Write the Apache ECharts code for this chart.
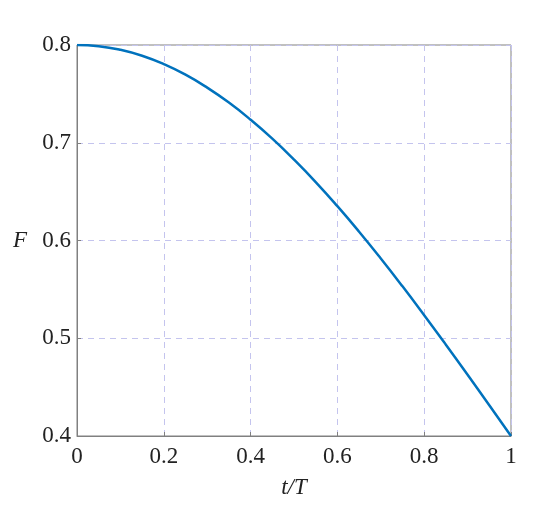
<!DOCTYPE html>
<html>
<head>
<meta charset="utf-8">
<script src="https://cdn.jsdelivr.net/npm/echarts@6/dist/echarts.min.js"></script>
<style>html,body{margin:0;padding:0;background:#fff;}#c{width:550px;height:506px;}</style>
</head>
<body>
<div id="c"></div>
<script>
const tValues = [0, 0.05, 0.1, 0.15, 0.2, 0.25, 0.3, 0.35, 0.4, 0.45, 0.5, 0.55, 0.6, 0.65, 0.7, 0.75, 0.8, 0.85, 0.9, 0.95, 1];
const fValues = [0.8, 0.7988, 0.7951, 0.7890, 0.7804, 0.7696, 0.7564, 0.7411, 0.7236, 0.7042, 0.6828, 0.6598, 0.6351, 0.6090, 0.5816, 0.5531, 0.5236, 0.4934, 0.4626, 0.4314, 0.4];
const xTicks = [0, 0.2, 0.4, 0.6, 0.8, 1];
const yTicks = [0.4, 0.5, 0.6, 0.7, 0.8];

const chart = echarts.init(document.getElementById('c'));
const font = 'Liberation Serif';
const axisCommon = {
  axisLine: {show: true, lineStyle: {color: '#808080', width: 1}},
  axisTick: {show: true, inside: true, length: 4, lineStyle: {color: '#808080'}},
  splitLine: {show: true, lineStyle: {color: '#c4c4ee', type: [6, 5], width: 1}},
  axisLabel: {color: '#222', fontFamily: font, fontSize: 23}
};
chart.setOption({
  animation: false,
  grid: {left: 77, top: 45, width: 434, height: 391, show: true, borderColor: '#808080', borderWidth: 1, backgroundColor: 'transparent'},
  xAxis: Object.assign({}, axisCommon, {
    type: 'value', min: 0, max: 1, interval: 0.2,
    name: 't/T', nameLocation: 'middle', nameGap: 40,
    nameTextStyle: {fontFamily: font, fontSize: 23, fontStyle: 'italic', color: '#222'},
    axisLabel: Object.assign({}, axisCommon.axisLabel, {margin: 9, formatter: v => (xTicks.includes(+v.toFixed(1)) ? String(+v.toFixed(1)) : '')})
  }),
  yAxis: Object.assign({}, axisCommon, {
    type: 'value', min: 0.4, max: 0.8, interval: 0.1,
    name: 'F', nameLocation: 'middle', nameGap: 50, nameRotate: 0,
    nameTextStyle: {fontFamily: font, fontSize: 23, fontStyle: 'italic', color: '#222'},
    axisLabel: Object.assign({}, axisCommon.axisLabel, {margin: 6, formatter: v => String(+v.toFixed(1))})
  }),
  series: [{
    type: 'line', smooth: true, showSymbol: false,
    data: tValues.map((t, i) => [t, fValues[i]]),
    lineStyle: {color: '#0072BD', width: 2.5}
  }]
});
</script>
</body>
</html>
